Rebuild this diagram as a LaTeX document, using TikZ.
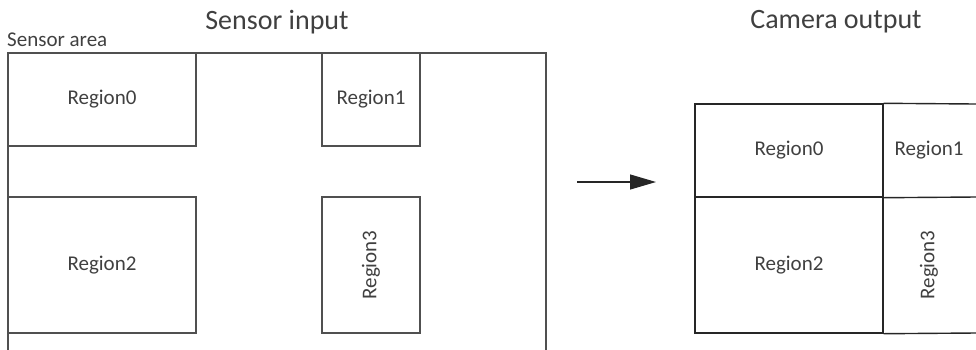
\documentclass[tikz,border=0pt]{standalone}
\usepackage{fontspec}
\setmainfont{Carlito}
\usetikzlibrary{arrows.meta}
\definecolor{ink}{HTML}{404040}
\definecolor{edge}{HTML}{505050}
\tikzset{
  region/.style={draw=edge, line width=1.2pt, inner sep=0pt, text=ink, font=\fontsize{21}{25}\selectfont},
  outcell/.style={draw=black!85, line width=1.4pt, inner sep=0pt, text=ink, font=\fontsize{21}{25}\selectfont},
  title/.style={text=ink, font=\fontsize{28}{32}\selectfont, inner sep=0pt},
  caption/.style={text=ink, font=\fontsize{21}{25}\selectfont, inner sep=0pt, anchor=west},
}
\begin{document}
\begin{tikzpicture}[x=1pt,y=-1pt]
\useasboundingbox (0,0) rectangle (976,349);
% titles
\node[title] (tin) at (277,22) {Sensor input};
\node[title] (tout) at (836,22) {Camera output};
\node[caption] (sa) at (7,40) {Sensor area};
% sensor frame (open at bottom)
\coordinate (fbl) at (8,352);
\coordinate (ftl) at (8,53);
\coordinate (ftr) at (546,53);
\coordinate (fbr) at (546,352);
\draw[edge, line width=1.2pt] (fbl) -- (ftl) -- (ftr) -- (fbr);
% input regions
\node[region, minimum width=188pt, minimum height=93pt] (r0) at (102,99.5) {Region0};
\node[region, minimum width=98pt, minimum height=93pt] (r1) at (371,99.5) {Region1};
\node[region, minimum width=188pt, minimum height=136pt] (r2) at (102,265) {Region2};
\node[region, minimum width=98pt, minimum height=136pt] (r3) at (371,265) {};
\node[text=ink, font=\fontsize{21}{25}\selectfont, rotate=90, inner sep=0pt] (r3t) at (r3.center) {Region3};
% arrow
\coordinate (as) at (577,182);
\coordinate (ae) at (656,182);
\draw[black!85, line width=1.2pt, -{Triangle[length=26pt,width=15pt]}] (as) -- (ae);
% output grid
\node[outcell, minimum width=188pt, minimum height=93pt] (o0) at (789,150.5) {Region0};
\node[outcell, minimum width=188pt, minimum height=136pt] (o2) at (789,265) {Region2};
\node[text=ink, font=\fontsize{21}{25}\selectfont, inner sep=0pt] (o1) at (929,150.5) {Region1};
\node[text=ink, font=\fontsize{21}{25}\selectfont, rotate=90, inner sep=0pt] (o3) at (929,265) {Region3};
\coordinate (otr) at (976,104);
\coordinate (omr) at (976,197);
\coordinate (obr) at (976,333);
\draw[black!85, line width=1.4pt] (o0.north east) -- (otr);
\draw[black!85, line width=1.4pt] (o0.south east) -- (omr);
\draw[black!85, line width=1.4pt] (o2.south east) -- (obr);
\end{tikzpicture}
\end{document}
